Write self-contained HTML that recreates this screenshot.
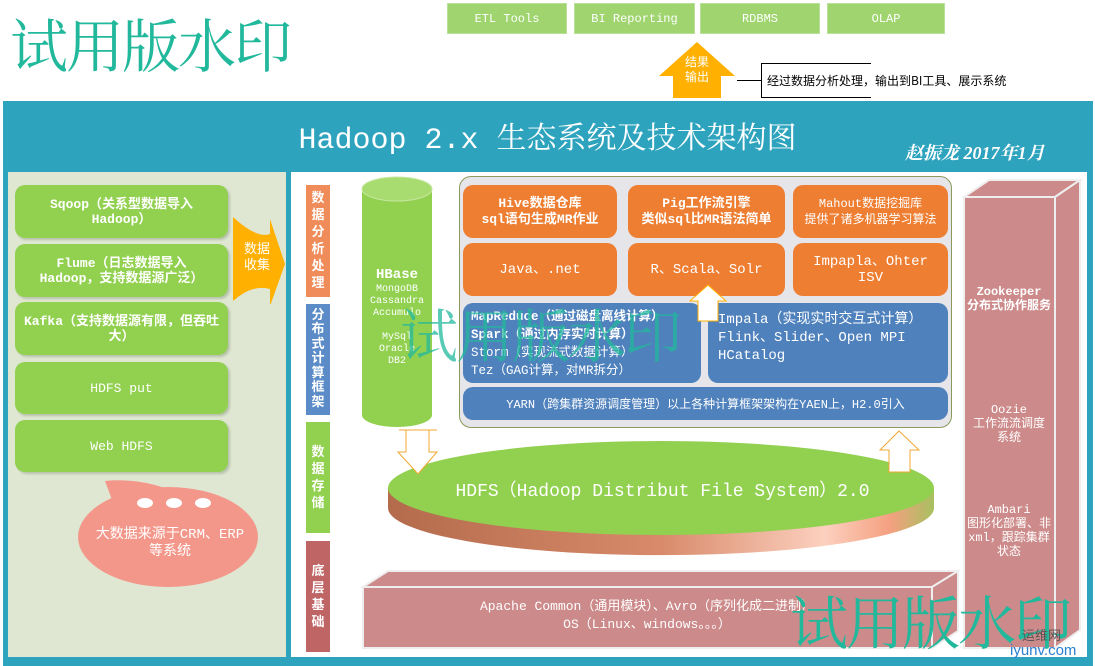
<!DOCTYPE html>
<html><head><meta charset="utf-8"><style>
body{margin:0;width:1095px;height:666px;position:relative;overflow:hidden;background:#fff;font-family:"Liberation Mono","Noto Sans CJK SC",monospace;}
.a{position:absolute;box-sizing:border-box;}
.c{display:flex;align-items:center;justify-content:center;text-align:center;color:#fff;}
.top{background:#9fd46e;color:#fff;font-size:12px;border:1px solid #b9e09a}
.g{background:#92d050;border-radius:10px;box-shadow:2px 2px 2px #b8c2ad;font-size:13px;line-height:15px}
.o{background:#ee7e32;border-radius:10px;font-size:13px;line-height:16px}
.b{background:#4f81bd;border-radius:10px;font-size:13px}
.v{width:24px;font-weight:bold;font-size:13px;line-height:17px;color:#fff;padding:0 5px;}
.wm{font-family:"Liberation Serif","Noto Serif CJK SC","Noto Sans CJK SC",serif;color:#22b89c;font-size:58px;letter-spacing:-2px}
</style></head><body>
<div class="a wm" style="left:10px;top:0px">试用版水印</div>
<div class="a c top" style="left:447px;top:3px;width:120px;height:31px">ETL Tools</div>
<div class="a c top" style="left:574px;top:3px;width:121px;height:31px">BI Reporting</div>
<div class="a c top" style="left:700px;top:3px;width:120px;height:31px">RDBMS</div>
<div class="a c top" style="left:827px;top:3px;width:118px;height:31px">OLAP</div>
<svg class="a" style="left:655px;top:40px" width="85" height="60"><polygon points="42,2 80,36 66,36 66,58 18,58 18,36 4,36" fill="#ffb000"/></svg>
<div class="a c" style="left:680px;top:56px;width:34px;font-size:12px;line-height:15px">结果<br>输出</div>
<div class="a" style="left:737px;top:80px;width:24px;border-top:1px solid #000"></div>
<div class="a" style="left:761px;top:63px;width:110px;height:35px;border-left:1px solid #000;border-top:1px solid #000;border-bottom:1px solid #000"></div>
<div class="a" style="left:767px;top:72px;font-size:12px;color:#000;font-family:'Noto Sans CJK SC',sans-serif">经过数据分析处理，输出到BI工具、展示系统</div>

<div class="a" style="left:3px;top:101px;width:1090px;height:565px;background:#2ea3bd"></div>
<div class="a" style="left:0;top:113px;width:1095px;text-align:center;color:#fff;font-size:30px;font-family:'Liberation Mono','Noto Serif CJK SC',serif">Hadoop 2.x 生态系统及技术架构图</div>
<div class="a" style="left:905px;top:139px;color:#fff;font-size:18px;font-weight:bold;font-style:italic;font-family:'Liberation Serif','Noto Serif CJK SC',serif">赵振龙 2017年1月</div>
<div class="a" style="left:8px;top:172px;width:278px;height:485px;background:#dfe7d2"></div>
<div class="a" style="left:291px;top:172px;width:796px;height:485px;background:#fff"></div>

<div class="a c g" style="left:15px;top:185px;width:213px;height:53px;font-weight:bold">Sqoop（关系型数据导入<br>Hadoop）</div>
<div class="a c g" style="left:15px;top:244px;width:213px;height:53px;font-weight:bold">Flume（日志数据导入<br>Hadoop，支持数据源广泛）</div>
<div class="a c g" style="left:15px;top:302px;width:213px;height:53px;font-weight:bold">Kafka（支持数据源有限，但吞吐大）</div>
<div class="a c g" style="left:15px;top:362px;width:213px;height:52px">HDFS put</div>
<div class="a c g" style="left:15px;top:420px;width:213px;height:52px">Web HDFS</div>
<svg class="a" style="left:232px;top:214px" width="55" height="90"><path d="M1,3 Q25,25 38,20 L38,5 L53,50 L38,92 L38,75 Q20,70 1,87 Z" fill="#ffb000"/></svg>
<div class="a c" style="left:240px;top:242px;width:34px;font-size:13px;line-height:16px">数据<br>收集</div>
<svg class="a" style="left:75px;top:478px" width="190" height="120"><path d="M30,3 Q60,0 90,10 L40,30 Z" fill="#f4978b"/><ellipse cx="93" cy="59" rx="90" ry="50" fill="#f4978b"/><ellipse cx="70" cy="25" rx="8" ry="5" fill="#fff"/><ellipse cx="99" cy="25" rx="8" ry="5" fill="#fff"/><ellipse cx="128" cy="25" rx="8" ry="5" fill="#fff"/></svg>
<div class="a c" style="left:85px;top:527px;width:170px;font-size:14px;line-height:17px">大数据来源于CRM、ERP<br>等系统</div>

<div class="a c v" style="left:306px;top:185px;height:112px;background:#ef8c5a">数据分析处理</div>
<div class="a c v" style="left:306px;top:304px;height:111px;background:#5b8cc8;line-height:14.5px">分布式计算框架</div>
<div class="a c v" style="left:306px;top:422px;height:111px;background:#92d050">数据存储</div>
<div class="a c v" style="left:306px;top:541px;height:111px;background:#c06565">底层基础</div>

<svg class="a" style="left:360px;top:175px" width="74" height="255"><path d="M2,14 L2,240 A35,12 0 0 0 72,240 L72,14 Z" fill="#92d050"/><ellipse cx="37" cy="14" rx="35" ry="12" fill="#a8dc70" stroke="#c6e8a0"/></svg>
<div class="a c" style="left:362px;top:266px;width:70px;flex-direction:column;font-size:10px;line-height:12px"><b style="font-size:14px;line-height:18px">HBase</b>MongoDB<br>Cassandra<br>Accumulo<br><br>MySql<br>Oracle<br>DB2</div>

<div class="a" style="left:459px;top:176px;width:493px;height:252px;background:#e6e6ea;border:1px solid #8a9a5a;border-radius:12px"></div>
<div class="a c o" style="left:463px;top:185px;width:154px;height:53px;font-weight:bold;font-size:13px">Hive数据仓库<br>sql语句生成MR作业</div>
<div class="a c o" style="left:628px;top:185px;width:157px;height:53px;font-weight:bold;font-size:13px">Pig工作流引擎<br>类似sql比MR语法简单</div>
<div class="a c o" style="left:793px;top:185px;width:155px;height:53px;font-size:12px">Mahout数据挖掘库<br>提供了诸多机器学习算法</div>
<div class="a c o" style="left:463px;top:243px;width:154px;height:53px;font-size:14px">Java、.net</div>
<div class="a c o" style="left:628px;top:243px;width:157px;height:53px;font-size:14px">R、Scala、Solr</div>
<div class="a c o" style="left:793px;top:243px;width:155px;height:53px;font-size:14px">Impapla、Ohter<br>ISV</div>
<div class="a b" style="left:463px;top:303px;width:238px;height:80px;color:#fff;padding:5px 8px;line-height:18px;font-size:12.5px"><b>MapReduce（通过磁盘离线计算）</b><br><b>Spark（通过内存实时计算）</b><br>Storm（实现流式数据计算）<br>Tez（GAG计算，对MR拆分）</div>
<div class="a b" style="left:708px;top:303px;width:240px;height:80px;color:#fff;padding:8px 10px;line-height:18px;font-size:14px">Impala（实现实时交互式计算）<br>Flink、Slider、Open MPI<br>HCatalog</div>
<div class="a c b" style="left:463px;top:387px;width:485px;height:33px;font-size:12px">YARN（跨集群资源调度管理）以上各种计算框架架构在YAEN上，H2.0引入</div>
<svg class="a" style="left:688px;top:283px" width="40" height="40"><polygon points="20,2 38,18 30,18 30,38 10,38 10,18 2,18" fill="#fff" stroke="#ffb000"/></svg>
<div class="a wm" style="left:400px;top:290px;color:rgba(34,184,156,.75)">试用版水印</div>

<svg class="a" style="left:385px;top:428px" width="555" height="130">
<defs><linearGradient id="s" x1="0" x2="1"><stop offset="0" stop-color="#b36b4c"/><stop offset=".5" stop-color="#d88a6a"/><stop offset=".8" stop-color="#fcd0bf"/><stop offset=".92" stop-color="#f4a080"/><stop offset="1" stop-color="#a8c060"/></linearGradient></defs>
<path d="M3,60 L3,80 A272,47 0 0 0 549,80 L549,60 Z" fill="url(#s)"/>
<ellipse cx="276" cy="60" rx="273" ry="47" fill="#92d050"/>
<polygon points="14,2 52,2 44,2 44,24 52,24 33,46 13,24 21,24 21,2" fill="#fff" stroke="#f0a830"/>
<polygon points="514,3 534,22 525,22 525,44 504,44 504,22 495,22" fill="#fff" stroke="#f0a830"/>
</svg>
<div class="a c" style="left:390px;top:476px;width:545px;font-size:18px;font-family:'Liberation Mono','Noto Sans CJK SC',monospace">HDFS（Hadoop Distribut File System）2.0</div>

<svg class="a" style="left:360px;top:568px" width="600" height="84"><polygon points="3,19 28,3 598,3 572,19" fill="#cd8a8a" stroke="#eee" stroke-width="2"/><polygon points="572,19 598,3 598,63 572,80" fill="#cd8a8a" stroke="#eee" stroke-width="2"/><rect x="3" y="19" width="569" height="61" fill="#cd8a8a" stroke="#eee" stroke-width="2"/></svg>
<div class="a c" style="left:363px;top:598px;width:568px;font-size:13px;line-height:18px">Apache Common（通用模块）、Avro（序列化成二进制）<br>OS（Linux、windows。。。）</div>

<svg class="a" style="left:962px;top:178px" width="122" height="474"><polygon points="2,19 27,2 118,2 93,19" fill="#cd8a8a" stroke="#eee" stroke-width="2"/><polygon points="93,19 118,2 118,452 93,470" fill="#cd8a8a" stroke="#eee" stroke-width="2"/><rect x="2" y="19" width="91" height="451" fill="#cd8a8a" stroke="#eee" stroke-width="2"/></svg>
<div class="a c" style="left:964px;top:285px;width:90px;font-size:12px;line-height:14px;font-weight:bold">Zookeeper<br>分布式协作服务</div>
<div class="a c" style="left:964px;top:403px;width:90px;font-size:12px;line-height:14px">Oozie<br>工作流流调度<br>系统</div>
<div class="a c" style="left:964px;top:503px;width:90px;font-size:12px;line-height:14px">Ambari<br>图形化部署、非xml，跟踪集群状态</div>

<div class="a wm" style="left:790px;top:577px">试用版水印</div>
<div class="a" style="left:1022px;top:625px;font-size:13px;color:#555;font-family:'Noto Sans CJK SC',sans-serif">运维网</div>
<div class="a" style="left:1010px;top:642px;font-size:15px;color:#2a7fd0;font-family:'Liberation Sans',sans-serif">iyunv.com</div>
</body></html>
